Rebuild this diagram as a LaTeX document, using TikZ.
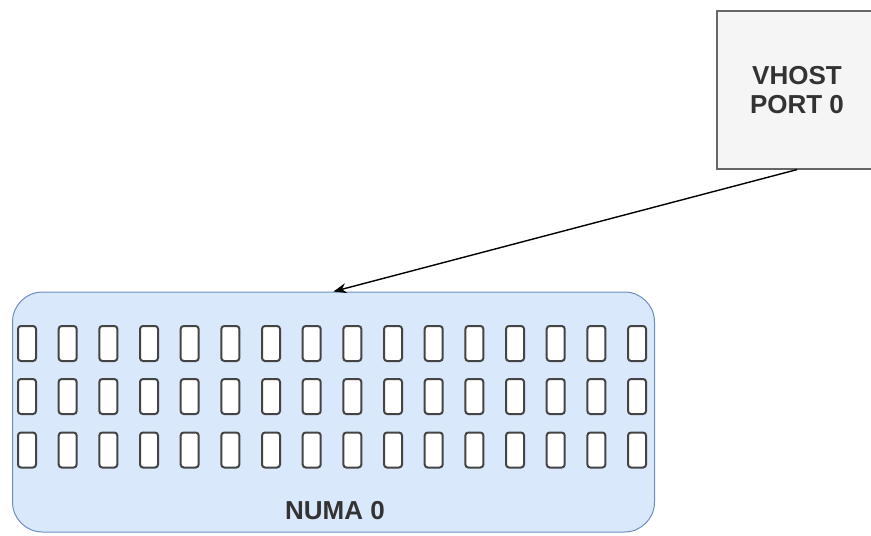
\documentclass[tikz,border=0pt]{standalone}
\usepackage{fontspec}
\setmainfont{Liberation Sans}
\usetikzlibrary{arrows.meta}
\definecolor{numafill}{HTML}{DAE8FC}
\definecolor{numaline}{HTML}{6C8EBF}
\definecolor{portfill}{HTML}{F5F5F5}
\definecolor{portline}{HTML}{666666}
\definecolor{coreline}{HTML}{444444}
\definecolor{labeltext}{HTML}{333333}
\begin{document}
\begin{tikzpicture}[x = 1pt, y = -1pt,
        numa/.style = {draw = numaline, fill = numafill, line width = 1pt, rounded corners = 30pt,
            minimum width = 642pt, minimum height = 240pt},
        port/.style = {draw = portline, fill = portfill, line width = 1.2pt,
            minimum width = 160pt, minimum height = 158pt, align = center},
        core/.style = {draw = coreline, fill = white, line width = 2pt, rounded corners = 3pt,
            minimum width = 18pt, minimum height = 35pt, inner sep = 0pt},
        caption/.style = {font = \fontsize{26}{29}\selectfont\bfseries, text = labeltext}]
    \useasboundingbox (0,0) rectangle (871,536);

    % Draw the numa node and the vhost port:
    \node [numa] (NUMA) at (333.5,412) {};
    \node [port] (Port) at (797,90) {};
    \node [caption, align = center] (PortLabel) at (797,90) {VHOST\\PORT 0};
    \node [caption] (NumaLabel) at (335,511) {NUMA 0};

    % Draw the cores, three rows of sixteen:
    \foreach \row/\y in {1/343.5, 2/396.5, 3/450}
        \foreach \col in {0,...,15}
            \node [core] (core-\row-\col) at (27+40.67*\col,\y) {};

    \draw [-{Stealth[length = 13pt, width = 10pt]}, line width = 1.4pt] (Port.south) -- (NUMA.north);
\end{tikzpicture}
\end{document}
